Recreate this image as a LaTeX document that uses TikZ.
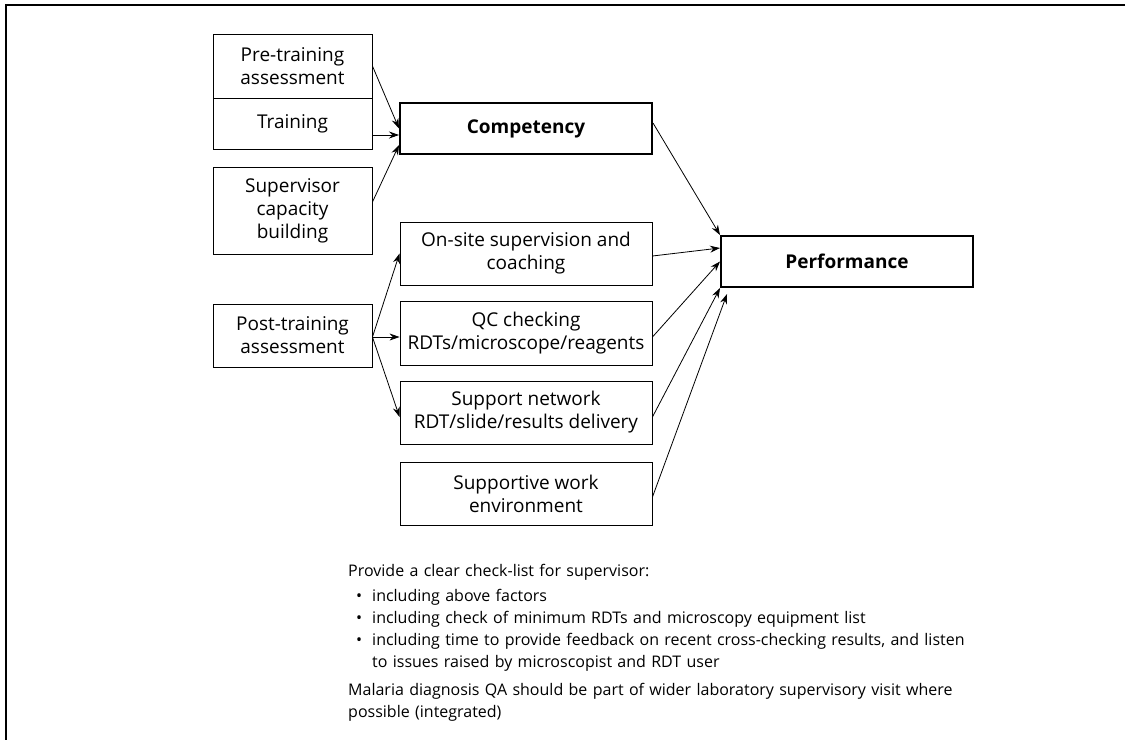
\documentclass[tikz,border=0pt]{standalone}
\usepackage{fontspec}
\setmainfont{Open Sans}
\usetikzlibrary{arrows.meta,positioning}

\setlength{\leftmargini}{24pt}
\setlength{\labelsep}{10pt}
\makeatletter
\def\@listI{\leftmargin\leftmargini \parsep\z@ \topsep 3pt \partopsep\z@ \itemsep\z@}
\let\@listi\@listI
\makeatother

\begin{document}
\begin{tikzpicture}[
    x=1pt, y=-1pt, % 以像素為單位, y 向下
    >={Stealth[length=10pt,width=7pt]},
    box/.style={draw, line width=0.9pt, align=center, inner sep=2pt, font=\fontsize{19}{23}\selectfont},
    leftbox/.style={box, minimum width=159pt},
    midbox/.style={box, minimum width=252pt},
    keybox/.style={box, line width=2pt, minimum width=252pt, minimum height=51pt, font=\fontsize{19}{23}\selectfont\bfseries},
    link/.style={->, line width=0.8pt}
]
    \useasboundingbox (0,0) rectangle (1135,740);

    % --- 1. 外框 ---
    \draw[line width=1.5pt] (1125,5) -- (6,5) -- (6,740);

    % --- 2. 左欄方塊 ---
    \node[leftbox, minimum height=64pt] (pre) at (292.5,66) {Pre-training\\assessment};
    \node[leftbox, minimum height=51pt] (train) at (292.5,123.5) {Training};
    \node[leftbox, minimum height=87pt] (sup) at (292.5,210.5) {Supervisor\\capacity\\building};
    \node[leftbox, minimum height=63pt] (post) at (292.5,335.5) {Post-training\\assessment};

    % --- 3. 中欄方塊 ---
    \node[keybox] (comp) at (526,128.5) {Competency};
    \node[midbox, minimum height=63pt] (onsite) at (526,253.5) {On-site supervision and\\coaching};
    \node[midbox, minimum height=64pt] (qc) at (526,333) {QC checking\\RDTs/microscope/reagents};
    \node[midbox, minimum height=63pt] (net) at (526,412.5) {Support network\\RDT/slide/results delivery};
    \node[midbox, minimum height=63pt] (env) at (526,493.5) {Supportive work\\environment};

    % --- 4. 右邊 Performance ---
    \node[keybox] (perf) at (847,261.5) {Performance};

    % --- 5. 箭頭 ---
    \draw[link] (pre.east) -- (comp.west);
    \draw[link] ([yshift=-11.5pt]train.east) -- ([yshift=-6.5pt]comp.west);
    \draw[link] ([yshift=8.5pt]sup.east) -- ([yshift=-16.5pt]comp.west);
    \draw[link] ([yshift=5.5pt]comp.east) -- (perf.north west);

    % Post-training 分出三支
    \coordinate (fork) at ([yshift=-1.5pt]post.east);
    \draw[link] (fork) -- (onsite.west);
    \draw[link] (fork) -- ([yshift=-4pt]qc.west);
    \draw[link] (fork) -- ([yshift=-4.5pt]net.west);

    % 指向 Performance
    \draw[link] ([yshift=-2.5pt]onsite.east) -- ([yshift=13.5pt]perf.west);
    \draw[link] ([yshift=-4pt]qc.east) -- (perf.west);
    \draw[link] ([yshift=-4.5pt]net.east) -- (perf.south west);
    \draw[link] ([yshift=-3.5pt]env.east) -- ([xshift=7pt,yshift=-6pt]perf.south west);

    % --- 6. 下方說明文字 ---
    \node[anchor=north west, text width=760pt, align=left, inner sep=0pt,
          font=\fontsize{16}{22}\selectfont] (notes) at (348,564) {%
        Provide a clear check-list for supervisor:
        \begin{itemize}\setlength{\itemsep}{0pt}\setlength{\parskip}{0pt}
            \item including above factors
            \item including check of minimum RDTs and microscopy equipment list
            \item including time to provide feedback on recent cross-checking results, and listen\\to issues raised by microscopist and RDT user
        \end{itemize}
        \vspace{3pt}
        Malaria diagnosis QA should be part of wider laboratory supervisory visit where\\possible (integrated)};

\end{tikzpicture}
\end{document}
